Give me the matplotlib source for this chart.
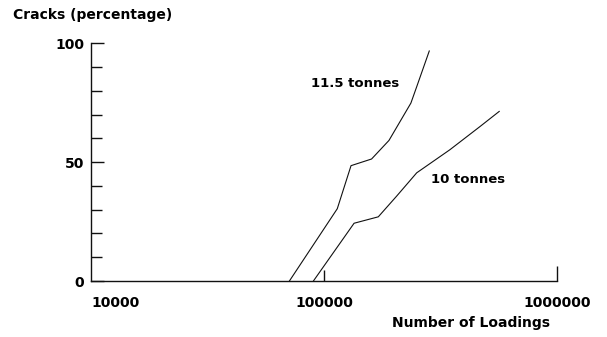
import matplotlib
matplotlib.use('Agg')
import matplotlib.pyplot as plt
from matplotlib.ticker import MultipleLocator, NullLocator

# Data
loadings_115 = [71000, 114000, 130600, 160000, 190000, 236000, 250000, 283000]
cracks_115 = [0, 30.4, 48.5, 51.3, 59.1, 74.8, 81.7, 96.7]

loadings_10 = [90000, 134600, 171000, 205000, 250000, 347000, 468000, 565000]
cracks_10 = [0, 24.3, 27.0, 35.7, 45.5, 55.2, 65.0, 71.3]

x_ticks = [10000, 100000, 1000000]
x_tick_labels = ['10000', '100000', '1000000']
y_ticks = [0, 50, 100]

plt.rcParams['font.family'] = ['DejaVu Sans']
plt.rcParams['font.weight'] = 'bold'

fig = plt.figure(figsize=(6.07, 3.37), dpi=100)
ax = fig.add_axes([0.15, 0.166, 0.7676, 0.706])

line_kw = dict(color='#111111', linewidth=0.8)
ax.plot(loadings_115, cracks_115, **line_kw)
ax.plot(loadings_10, cracks_10, **line_kw)

ax.set_xscale('log')
ax.set_xlim(10000, 1000000)
ax.set_ylim(0, 100)

# spines: only left and bottom like the original
for side in ['top', 'right']:
    ax.spines[side].set_visible(False)
for side in ['left', 'bottom']:
    ax.spines[side].set_linewidth(1.0)
    ax.spines[side].set_color('#111111')

# y ticks every 10, labels at 0/50/100
ax.yaxis.set_major_locator(MultipleLocator(50))
ax.yaxis.set_minor_locator(MultipleLocator(10))
ax.tick_params(axis='y', which='major', direction='in', length=9, width=1,
               pad=5, labelsize=10, color='#111111')
ax.tick_params(axis='y', which='minor', direction='in', length=8, width=1,
               color='#111111')
ax.set_yticks(y_ticks)

# x ticks: upward marks at 1e5 and 1e6
ax.set_xticks(x_ticks)
ax.set_xticklabels(x_tick_labels)
ax.xaxis.set_minor_locator(NullLocator())
ax.tick_params(axis='x', which='major', direction='in', length=8, width=1,
               pad=11, labelsize=10, color='#111111')
first = ax.get_xticklabels()[0]
first.set_horizontalalignment('left')
xt = ax.xaxis.get_major_ticks()
xt[0].tick1line.set_visible(False)
xt[2].tick1line.set_markersize(11)

# axis titles
fig.text(0.021, 0.955, 'Cracks (percentage)', fontsize=10, fontweight='bold',
         ha='left', va='center')
fig.text(0.645, 0.043, 'Number of Loadings', fontsize=10, fontweight='bold',
         ha='left', va='center')

# curve labels
ax.text(136000, 83, '11.5 tonnes', fontsize=9.5, fontweight='bold', ha='center', va='center')
ax.text(415000, 42.5, '10 tonnes', fontsize=9.5, fontweight='bold', ha='center', va='center')

fig.savefig('out.png', dpi=100)
